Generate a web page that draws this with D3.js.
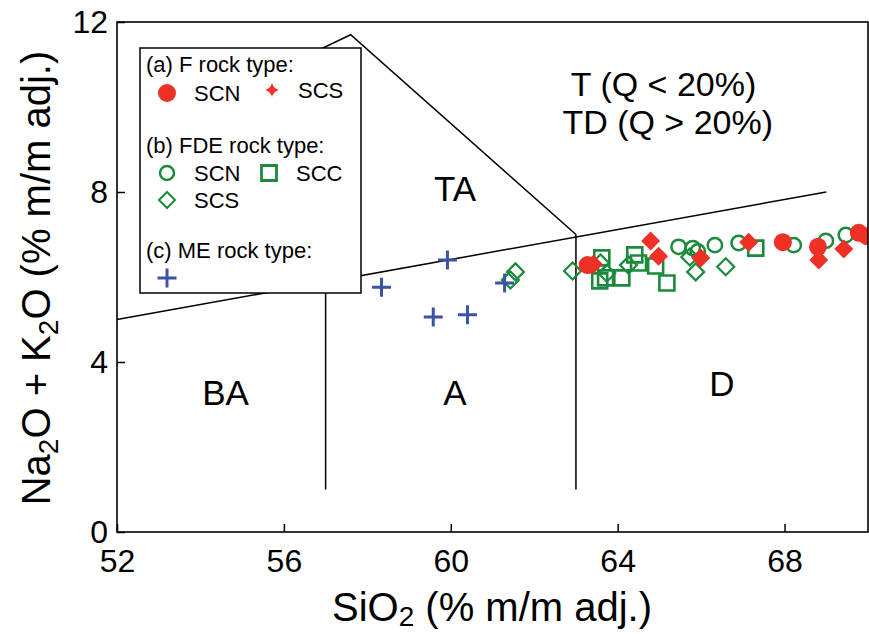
<!DOCTYPE html>
<html>
<head>
<meta charset="utf-8">
<script src="https://cdn.jsdelivr.net/npm/d3@7"></script>
<style>
  html, body { margin: 0; padding: 0; background: #fff; }
  svg { display: block; font-family: Arial, "Liberation Sans", sans-serif; }
</style>
</head>
<body>
<svg id="chart" width="869" height="634"></svg>
<script>
// ---------- data ----------
const xTicks = [52, 56, 60, 64, 68];
const yTicks = [0, 4, 8, 12];

// classification boundary polylines (SiO2, Na2O+K2O)
const boundaryMain = [[52, 5], [69, 8]];
const boundaryTA = [[53, 9.54], [57.6, 11.7], [63, 7]];
const boundaryV57 = [[57, 1], [57, 5.88]];
const boundaryV63 = [[63, 1], [63, 7]];

const fieldLabels = ["BA", "A", "D", "TA"];
const fieldPos = [[54.6, 3.0], [60.1, 3.0], [66.5, 3.2], [60.1, 7.8]];
const fieldLabelT = ["T (Q < 20%)", "TD (Q > 20%)"];
const fieldPosT = [[65.1, 10.26], [65.2, 9.37]];

// (a) F rock type
const fSCN = [[63.28, 6.28], [67.96, 6.82], [68.80, 6.71], [69.78, 7.04], [69.98, 6.96]];
const fSCS = [[63.42, 6.30], [64.79, 6.85], [64.98, 6.49], [65.99, 6.45], [67.14, 6.82], [68.82, 6.40], [69.42, 6.66]];
// (b) FDE rock type
const fdeSCN = [[65.46, 6.71], [65.80, 6.68], [65.92, 6.60], [66.33, 6.75], [66.90, 6.80], [68.22, 6.75], [68.99, 6.85], [69.47, 6.99]];
const fdeSCC = [[63.62, 6.45], [63.57, 5.91], [63.71, 5.98], [64.10, 5.98], [64.41, 6.52], [64.50, 6.33], [64.91, 6.26], [65.18, 5.86], [67.31, 6.68]];
const fdeSCS = [[61.43, 5.93], [61.55, 6.12], [62.92, 6.14], [63.59, 6.33], [63.74, 6.09], [64.26, 6.28], [65.73, 6.47], [65.87, 6.12], [66.59, 6.24]];
// (c) ME rock type
const meData = [[58.34, 5.76], [59.92, 6.40], [59.58, 5.06], [60.40, 5.11], [61.29, 5.86]];

// ---------- styles ----------
const RED = "#ee3124", GREEN = "#1b8a3c", BLUE = "#3a53a4";
const svg = d3.select("#chart");
const L = 117, R = 868, T = 22, B = 532;
const x = d3.scaleLinear().domain([52, 70]).range([L, R]);
const y = d3.scaleLinear().domain([0, 12]).range([B, T]);

svg.append("defs").append("clipPath").attr("id", "clip")
  .append("rect").attr("x", L).attr("y", T).attr("width", R - L).attr("height", B - T);

const line = d3.line().x(d => x(d[0])).y(d => y(d[1]));
const gLines = svg.append("g").attr("fill", "none").attr("stroke", "#000").attr("stroke-width", 1.5);
[boundaryMain, boundaryTA, boundaryV57, boundaryV63].forEach(p => gLines.append("path").attr("d", line(p)));

// field labels
svg.append("g").selectAll("text").data(fieldLabels).join("text")
  .attr("x", (d, i) => x(fieldPos[i][0])).attr("y", (d, i) => y(fieldPos[i][1]))
  .attr("text-anchor", "middle").attr("font-size", 35).text(d => d);
svg.append("g").selectAll("text").data(fieldLabelT).join("text")
  .attr("x", (d, i) => x(fieldPosT[i][0])).attr("y", (d, i) => y(fieldPosT[i][1]))
  .attr("text-anchor", "middle").attr("font-size", 34).text(d => d);

// markers
const pts = svg.append("g").attr("clip-path", "url(#clip)");
function diamondPath(h) { return `M0,${-h}L${h},0L0,${h}L${-h},0Z`; }
function squarePath(s) { return `M${-s},${-s}H${s}V${s}H${-s}Z`; }
function plusPath(a) { return `M${-a},0H${a}M0,${-a}V${a}`; }

pts.selectAll(".fdescs").data(fdeSCS).join("path")
  .attr("transform", d => `translate(${x(d[0])},${y(d[1])})`)
  .attr("d", diamondPath(8.5)).attr("fill", "none").attr("stroke", GREEN).attr("stroke-width", 2.2);
pts.selectAll(".fdescc").data(fdeSCC).join("path")
  .attr("transform", d => `translate(${x(d[0])},${y(d[1])})`)
  .attr("d", squarePath(7.5)).attr("fill", "none").attr("stroke", GREEN).attr("stroke-width", 2.6);
pts.selectAll(".fdescn").data(fdeSCN).join("circle")
  .attr("cx", d => x(d[0])).attr("cy", d => y(d[1])).attr("r", 7.2)
  .attr("fill", "none").attr("stroke", GREEN).attr("stroke-width", 2.5);
pts.selectAll(".me").data(meData).join("path")
  .attr("transform", d => `translate(${x(d[0])},${y(d[1])})`)
  .attr("d", plusPath(9.5)).attr("fill", "none").attr("stroke", BLUE).attr("stroke-width", 3);
pts.selectAll(".fscs").data(fSCS).join("path")
  .attr("transform", d => `translate(${x(d[0])},${y(d[1])})`)
  .attr("d", diamondPath(9.5)).attr("fill", RED);
pts.selectAll(".fscn").data(fSCN).join("circle")
  .attr("cx", d => x(d[0])).attr("cy", d => y(d[1])).attr("r", 9).attr("fill", RED);

// axes frame
svg.append("rect").attr("x", L).attr("y", T).attr("width", R - L).attr("height", B - T)
  .attr("fill", "none").attr("stroke", "#000").attr("stroke-width", 1.6);

const xAxis = svg.append("g").attr("transform", `translate(0,${B})`)
  .call(d3.axisBottom(x).tickValues(xTicks).tickSize(-8).tickPadding(17));
const yAxis = svg.append("g").attr("transform", `translate(${L},0)`)
  .call(d3.axisLeft(y).tickValues(yTicks).tickSize(-8).tickPadding(9));
[xAxis, yAxis].forEach(a => {
  a.select(".domain").remove();
  a.selectAll("line").attr("stroke", "#000").attr("stroke-width", 1.5);
  a.selectAll("text").attr("font-size", 32).attr("fill", "#000")
    .attr("font-family", 'Arial, "Liberation Sans", sans-serif');
});

// axis titles
const xt = svg.append("text").attr("x", 492).attr("y", 621).attr("text-anchor", "middle").attr("font-size", 40);
xt.append("tspan").text("SiO");
xt.append("tspan").attr("font-size", 28).attr("dy", 5).text("2");
xt.append("tspan").attr("dy", -5).text(" (% m/m adj.)");

const yt = svg.append("text").attr("transform", "translate(50,278) rotate(-90)")
  .attr("text-anchor", "middle").attr("font-size", 40);
yt.append("tspan").text("Na");
yt.append("tspan").attr("font-size", 28).attr("dy", 8).text("2");
yt.append("tspan").attr("dy", -8).text("O + K");
yt.append("tspan").attr("font-size", 28).attr("dy", 8).text("2");
yt.append("tspan").attr("dy", -8).text("O (% m/m adj.)");

// legend
const lg = svg.append("g");
lg.append("rect").attr("x", 140).attr("y", 48).attr("width", 221).attr("height", 245)
  .attr("fill", "#fff").attr("stroke", "#000").attr("stroke-width", 1.5);
const legendHeads = ["(a) F rock type:", "(b) FDE rock type:", "(c) ME rock type:"];
const headY = [72, 153, 258];
lg.selectAll(".head").data(legendHeads).join("text")
  .attr("x", 146).attr("y", (d, i) => headY[i]).attr("font-size", 22).text(d => d);
const legendItems = [
  {label: "SCN", kind: "fcircle", sx: 167, sy: 93, tx: 194},
  {label: "SCS", kind: "fdiamond", sx: 272, sy: 90, tx: 298},
  {label: "SCN", kind: "ocircle", sx: 167, sy: 173, tx: 194},
  {label: "SCC", kind: "osquare", sx: 269, sy: 173, tx: 296},
  {label: "SCS", kind: "odiamond", sx: 167, sy: 200, tx: 194},
  {label: "", kind: "plus", sx: 167, sy: 278, tx: 194}
];
legendItems.forEach(it => {
  const g = lg.append("g").attr("transform", `translate(${it.sx},${it.sy})`);
  if (it.kind === "fcircle") g.append("circle").attr("r", 9).attr("fill", RED);
  if (it.kind === "fdiamond") g.append("path").attr("d", "M0,-7Q1.5,-1.5 7,0Q1.5,1.5 0,7Q-1.5,1.5 -7,0Q-1.5,-1.5 0,-7Z").attr("fill", RED);
  if (it.kind === "ocircle") g.append("circle").attr("r", 7).attr("fill", "none").attr("stroke", GREEN).attr("stroke-width", 2.5);
  if (it.kind === "osquare") g.append("path").attr("d", squarePath(7.5)).attr("fill", "none").attr("stroke", GREEN).attr("stroke-width", 2.8);
  if (it.kind === "odiamond") g.append("path").attr("d", diamondPath(8)).attr("fill", "none").attr("stroke", GREEN).attr("stroke-width", 2);
  if (it.kind === "plus") g.append("path").attr("d", plusPath(9.5)).attr("fill", "none").attr("stroke", BLUE).attr("stroke-width", 3);
  if (it.label) lg.append("text").attr("x", it.tx).attr("y", it.sy + 8).attr("font-size", 22).text(it.label);
});
</script>
</body>
</html>
